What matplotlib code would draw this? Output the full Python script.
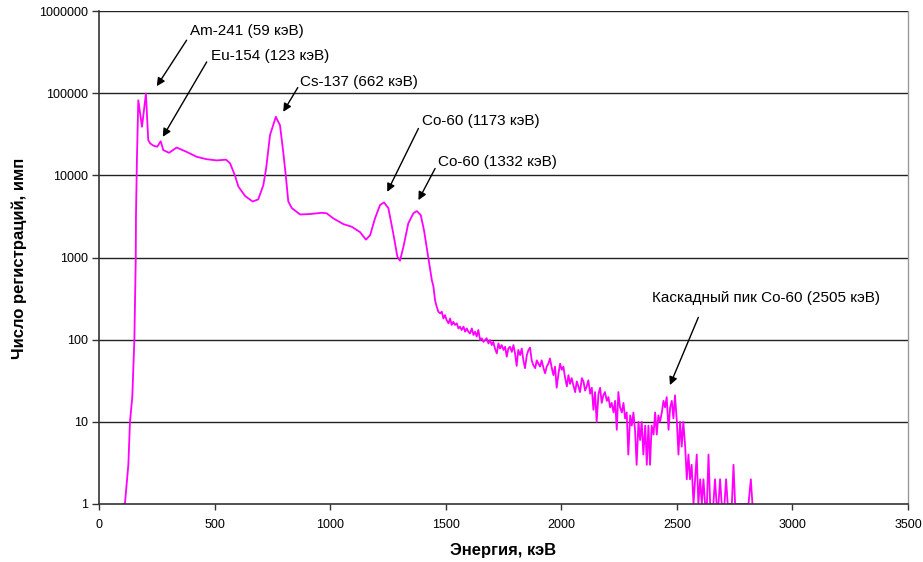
import matplotlib
matplotlib.use("Agg")
import matplotlib.pyplot as plt
from matplotlib.ticker import FixedLocator, FixedFormatter

# ---- data (energy keV, counts) ----
energy_peaks = [105, 112, 127, 134, 144, 153, 159, 160, 164, 170, 186, 203, 213, 221, 235, 252,
                267, 278, 303, 336, 379, 423, 466, 509, 550, 567, 588, 603, 632, 665, 689,
                711, 723, 740, 765, 783, 797, 808, 819, 834, 855, 870, 913, 964, 985, 1014,
                1057, 1093, 1129, 1155, 1173, 1194, 1216, 1233, 1252, 1273, 1291, 1302,
                1317, 1338, 1360, 1375, 1392, 1406, 1425, 1440, 1447, 1454]
counts_peaks = [1, 1, 3, 10, 20, 99, 980, 3280, 15300, 82000, 39000, 99000, 27000, 24500, 23000,
                22300, 26000, 20300, 18800, 21800, 19300, 16800, 15700, 15200, 15500, 14000,
                10000, 7300, 5600, 4800, 5100, 7600, 12100, 31000, 51500, 40700, 19300, 10000,
                4800, 4000, 3600, 3340, 3380, 3500, 3450, 2990, 2550, 2370, 2040, 1650, 1870,
                2990, 4360, 4680, 3980, 1970, 1020, 915, 1350, 2600, 3450, 3670, 3280, 2150,
                980, 530, 441, 300]

energy_tail = [1461, 1468, 1476, 1483, 1490, 1497, 1504, 1512, 1519, 1526, 1533, 1540, 1548, 1555,
               1562, 1569, 1577, 1584, 1591, 1598, 1605, 1613, 1620, 1627, 1634, 1641, 1649,
               1656, 1663, 1670, 1677, 1685, 1692, 1699, 1706, 1713, 1721, 1728, 1735, 1742,
               1750, 1757, 1764, 1771, 1778, 1786, 1793, 1800, 1807, 1814, 1822, 1829, 1836,
               1843, 1851, 1858, 1865, 1872, 1879, 1887, 1894, 1901, 1908, 1915, 1923, 1930,
               1937, 1944, 1951, 1959, 1966, 1973, 1980, 1988, 1995, 2002, 2009, 2016, 2024,
               2031, 2038, 2045, 2052, 2060, 2067, 2074, 2081, 2089, 2096, 2103, 2110, 2117,
               2125, 2132, 2139, 2146, 2153, 2161, 2168, 2175, 2182, 2189, 2197, 2204, 2211,
               2218, 2226, 2233, 2240, 2247, 2254, 2262, 2269, 2276, 2283, 2290, 2298, 2305,
               2312, 2319, 2326, 2334, 2341, 2348, 2355, 2363, 2370, 2377, 2384, 2391, 2399,
               2406, 2413, 2420, 2427, 2435, 2442, 2449, 2456, 2464, 2471, 2478, 2485, 2492,
               2500, 2507, 2514, 2521, 2528, 2536, 2543, 2550, 2557, 2564, 2572, 2579, 2586,
               2593, 2601, 2608, 2615, 2622, 2630, 2637, 2644, 2658, 2665, 2672, 2680, 2687,
               2694, 2706, 2713, 2720, 2738, 2745, 2752, 2810, 2820, 2827]
counts_tail = [252, 219, 209, 219, 181, 199, 173, 158, 181, 151, 165, 151, 158, 137,
               144, 131, 144, 125, 137, 125, 119, 137, 114, 125, 109, 131, 99,
               104, 94, 99, 104, 90, 99, 86, 94, 78, 68, 90, 78, 86,
               75, 82, 62, 78, 82, 71, 86, 68, 48, 75, 65, 78, 56,
               45, 65, 75, 80, 56, 49, 45, 56, 51, 47, 56, 45, 39,
               47, 51, 59, 45, 37, 47, 26, 39, 51, 43, 47, 35, 27,
               37, 29, 34, 28, 23, 31, 27, 23, 34, 31, 24, 27, 32,
               22, 26, 14, 23, 10, 22, 26, 17, 21, 23, 18, 20, 15,
               17, 13, 18, 8, 23, 15, 13, 17, 11, 13, 4, 12, 9,
               13, 8, 3, 10, 6, 10, 4, 9, 3, 9, 3, 9, 7,
               13, 7, 12, 10, 13, 18, 15, 20, 8, 15, 18, 11, 21,
               10, 4, 10, 5, 10, 5, 2, 4, 2, 3, 1, 2, 4,
               1, 2, 1, 2, 1, 1, 4, 1, 1, 2, 1, 1, 2,
               1, 1, 2, 1, 1, 3, 1, 1, 2, 1]

energy = energy_peaks + energy_tail
counts = counts_peaks + counts_tail

x_ticks = [0, 500, 1000, 1500, 2000, 2500, 3000, 3500]
y_ticks = [1, 10, 100, 1000, 10000, 100000, 1000000]
y_tick_labels = ["1", "10", "100", "1000", "10000", "100000", "1000000"]

annotations = [
    ("Am-241 (59 кэВ)", (250, 121600), (379, 441000), (394, 568000)),
    ("Eu-154 (123 кэВ)", (276, 29400), (466, 240000), (485, 282000)),
    ("Cs-137 (662 кэВ)", (797, 59300), (860, 117000), (870, 136000)),
    ("Co-60 (1173 кэВ)", (1247, 6300), (1382, 37200), (1398, 45600)),
    ("Co-60 (1332 кэВ)", (1382, 4990), (1454, 12100), (1467, 14500)),
    ("Каскадный пик Co-60 (2505 кэВ)", (2470, 28), (2593, 187), (2393, 321)),
]

plt.rcParams['font.family'] = ['Liberation Sans', 'DejaVu Sans']

fig = plt.figure(figsize=(9.23, 5.62), dpi=100)
ax = fig.add_axes([99/923, 1-504/562, (908-99)/923, (504-11)/562])

ax.set_yscale('log')
ax.set_xlim(0, 3500)
ax.set_ylim(1, 1000000)

for yv in y_ticks[1:]:
    ax.axhline(yv, color='#222222', lw=1.0, zorder=1)

ax.plot(energy, counts, color='#FF00FF', lw=1.3, zorder=2, clip_on=True)

ax.xaxis.set_major_locator(FixedLocator(x_ticks))
ax.yaxis.set_major_locator(FixedLocator(y_ticks))
ax.yaxis.set_major_formatter(FixedFormatter(y_tick_labels))
ax.yaxis.set_minor_locator(FixedLocator([]))
ax.tick_params(axis='both', labelsize=9, direction='out', length=4, width=1, colors='#333333',
               labelcolor='black')
ax.tick_params(axis='y', length=5, pad=3)
ax.tick_params(axis='x', pad=7)

for s in ['left', 'bottom']:
    ax.spines[s].set_color('#333333')
    ax.spines[s].set_linewidth(1.2)
ax.spines['top'].set_visible(False)
ax.spines['right'].set_color('#999999')
ax.spines['right'].set_linewidth(1.0)
ax.spines['bottom'].set_zorder(3)

ax.set_xlabel('Энергия, кэВ', fontsize=12, fontweight='bold')
ax.set_ylabel('Число регистраций, имп', fontsize=12, fontweight='bold', va='center')
ax.xaxis.set_label_coords((503-99)/809, (504-543)/493)
ax.yaxis.set_label_coords((19-99)/809, (504-258)/493)

for text, head, tail, pos in annotations:
    ax.annotate('', xy=head, xytext=tail,
                arrowprops=dict(arrowstyle='-|>', color='black', lw=1.0,
                                mutation_scale=12, shrinkA=0, shrinkB=0))
    ax.text(pos[0], pos[1], text, fontsize=11, ha='left', va='center', color='black')

fig.savefig('out.png', dpi=100)
